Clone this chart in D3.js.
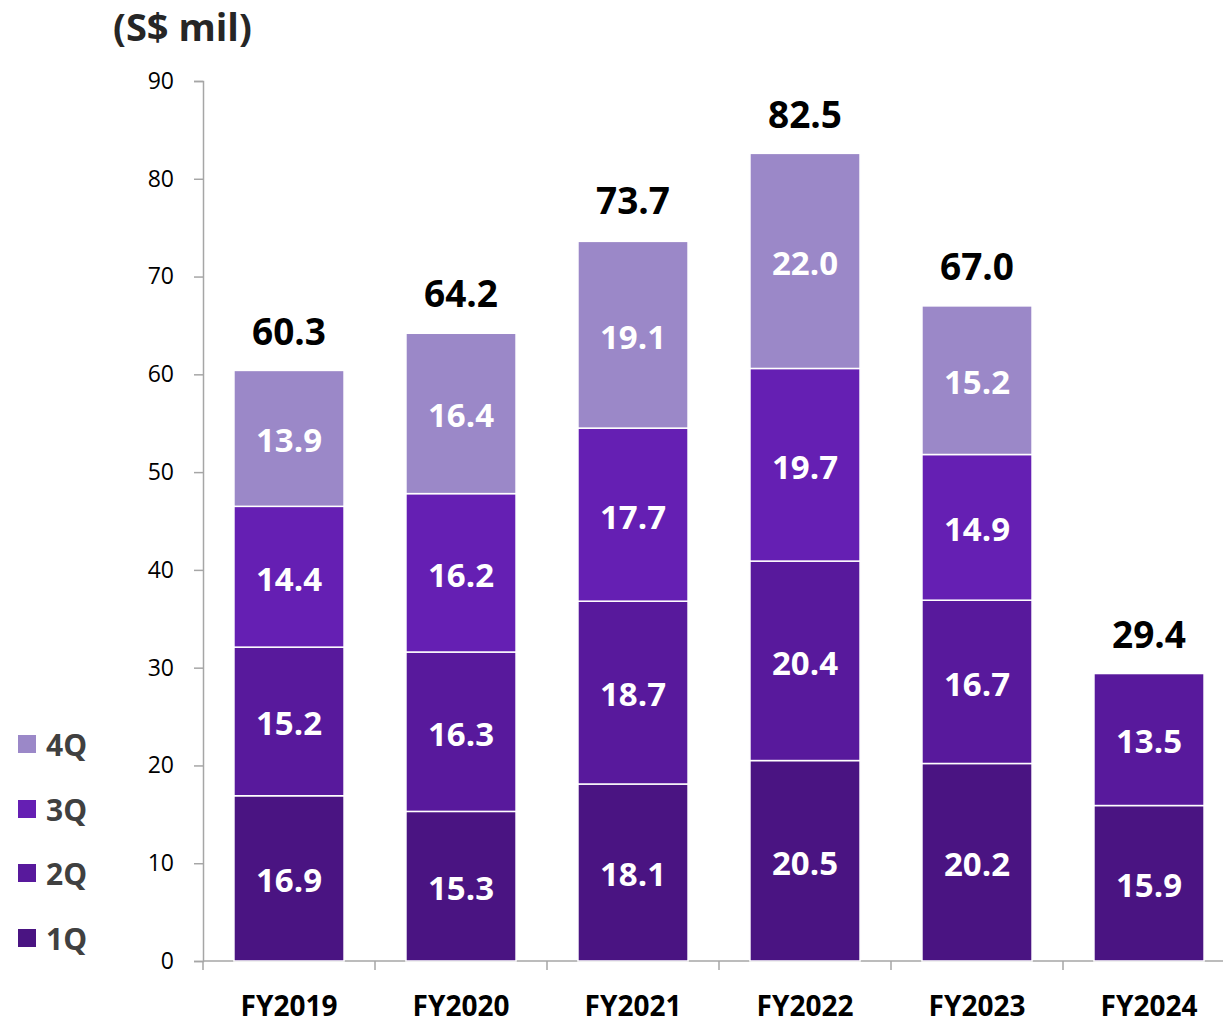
<!DOCTYPE html>
<html>
<head>
<meta charset="utf-8">
<script src="https://cdn.jsdelivr.net/npm/d3@7"></script>
<style>
  html, body { margin: 0; padding: 0; background: #fff; }
  svg { display: block; font-family: "Open Sans", "Noto Sans", sans-serif; }
</style>
</head>
<body>
<svg id="chart" width="1223" height="1023"></svg>
<script>
// Quarterly figures (S$ mil) by financial year
const years = ["FY2019", "FY2020", "FY2021", "FY2022", "FY2023", "FY2024"];
const quarters = ["1Q", "2Q", "3Q", "4Q"];
const q1 = [16.9, 15.3, 18.1, 20.5, 20.2, 15.9];
const q2 = [15.2, 16.3, 18.7, 20.4, 16.7, 13.5];
const q3 = [14.4, 16.2, 17.7, 19.7, 14.9, null];
const q4 = [13.9, 16.4, 19.1, 22.0, 15.2, null];
const totals = [60.3, 64.2, 73.7, 82.5, 67.0, 29.4];
const yTicks = [0, 10, 20, 30, 40, 50, 60, 70, 80, 90];
const colors = ["#4a1482", "#58199c", "#651fb3", "#9b88c8"];

const series = [q1, q2, q3, q4];

const svg = d3.select("#chart");
const x = d3.scaleBand().domain(years).range([203, 1235]).paddingInner(0.36).paddingOuter(0.18);
const y = d3.scaleLinear().domain([0, 90]).range([961, 81]);

// y axis
const yAxis = svg.append("g")
  .attr("transform", "translate(203,0)")
  .call(d3.axisLeft(y).tickValues(yTicks).tickSize(9).tickPadding(20));
yAxis.select(".domain").attr("stroke", "#a6a6a6").attr("stroke-width", 1.5);
yAxis.selectAll(".tick line").attr("stroke", "#a6a6a6").attr("stroke-width", 1.5);
yAxis.selectAll(".tick text").attr("font-size", 23).attr("fill", "#000")
  .attr("font-family", "'Open Sans', 'Noto Sans', sans-serif");

// x axis baseline with ticks at category boundaries
const xBase = svg.append("g");
xBase.append("line").attr("x1", 203).attr("x2", 1223).attr("y1", y(0)).attr("y2", y(0))
  .attr("stroke", "#a6a6a6").attr("stroke-width", 1.5);
const step = x.step();
years.forEach((d, i) => {
  const left = 203 + i * step;
  xBase.append("line").attr("x1", left).attr("x2", left).attr("y1", y(0)).attr("y2", y(0) + 9)
    .attr("stroke", "#a6a6a6").attr("stroke-width", 1.5);
});

// stacked segments
years.forEach((yr, i) => {
  let base = 0;
  series.forEach((s, k) => {
    const v = s[i];
    if (v == null) return;
    const y0 = base, y1 = base + v;
    base = y1;
    svg.append("rect")
      .attr("x", x(yr)).attr("width", x.bandwidth())
      .attr("y", y(y1)).attr("height", y(y0) - y(y1))
      .attr("fill", colors[k]).attr("stroke", "#fff").attr("stroke-width", 1.5);
    svg.append("text")
      .attr("x", x(yr) + x.bandwidth() / 2)
      .attr("y", (y(y0) + y(y1)) / 2 + 2)
      .attr("dy", "0.36em")
      .attr("text-anchor", "middle")
      .attr("font-size", 33).attr("font-weight", "bold").attr("fill", "#fff")
      .text(v.toFixed(1));
  });
  svg.append("text")
    .attr("x", x(yr) + x.bandwidth() / 2)
    .attr("y", y(totals[i]) - 26)
    .attr("text-anchor", "middle")
    .attr("font-size", 37).attr("font-weight", "bold").attr("fill", "#000")
    .text(totals[i].toFixed(1));
  svg.append("text")
    .attr("x", x(yr) + x.bandwidth() / 2)
    .attr("y", 1016)
    .attr("text-anchor", "middle")
    .attr("font-size", 28).attr("font-weight", "bold").attr("fill", "#000")
    .text(yr);
});

// unit title
svg.append("text").attr("x", 113).attr("y", 41)
  .attr("font-size", 38).attr("font-weight", "bold").attr("fill", "#262626")
  .text("(S$ mil)");

// legend, top to bottom 4Q..1Q
const legendY = [744, 809, 873, 938];
quarters.slice().reverse().forEach((q, j) => {
  const k = quarters.length - 1 - j;
  const g = svg.append("g").attr("transform", `translate(18,${legendY[j]})`);
  g.append("rect").attr("x", 0).attr("y", -9).attr("width", 18).attr("height", 18).attr("fill", colors[k]);
  g.append("text").attr("x", 28).attr("y", 1).attr("dy", "0.36em")
    .attr("font-size", 30).attr("font-weight", "bold").attr("fill", "#404040").text(q);
});
</script>
</body>
</html>
